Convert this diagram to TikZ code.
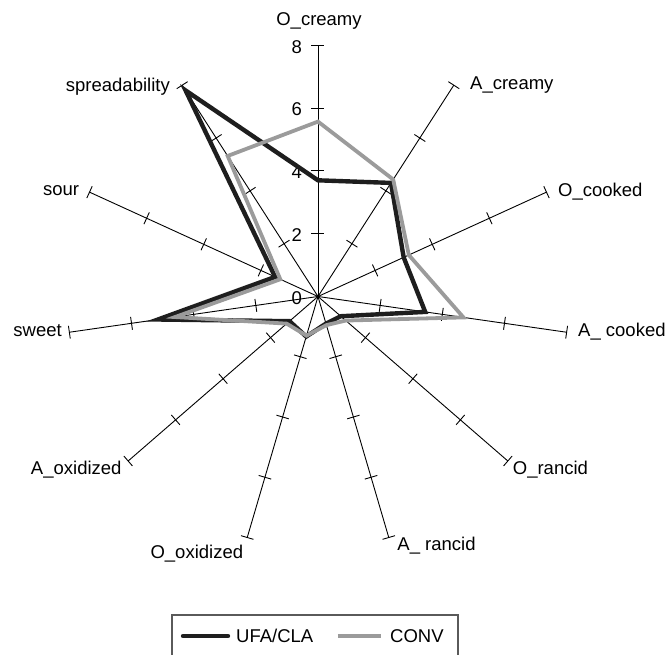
\documentclass[tikz,border=0pt]{standalone}
\usepackage{fontspec}
\setmainfont{Liberation Sans}
\usetikzlibrary{calc}
\definecolor{convgray}{RGB}{155,155,155}
\definecolor{ufablack}{RGB}{30,30,30}
\definecolor{boxgray}{RGB}{90,90,90}
\begin{document}
\begin{tikzpicture}[x=1pt,y=1pt,
  font=\fontsize{18.5}{22}\selectfont,
  axisline/.style={line width=0.9pt,black},
  ufaline/.style={line width=4.4pt,ufablack,line join=miter},
  convline/.style={line width=3.8pt,convgray,line join=miter},
  lab/.style={inner sep=0pt},
  num/.style={inner sep=0pt,anchor=east}]
\useasboundingbox (-318,-358.5) rectangle (349,296.5);
\def\U{31.4}
\coordinate (c) at (0,0);
% axes with ticks
\foreach \i in {0,...,10}{
  \pgfmathsetmacro\a{90-\i*360/11}
  \coordinate (e\i) at ({\a}:{8*\U});
  \draw[axisline] (c) -- (e\i);
  \foreach \k in {1,...,4}{
    \draw[axisline] ($({\a}:{2*\k*\U})+({\a+90}:6.5)$) -- ($({\a}:{2*\k*\U})+({\a-90}:6.5)$);
  }
}
\fill (c) circle (1.8);
% scale numbers
\foreach \k in {0,...,4}{
  \node[num] (n\k) at (-16,{2*\k*\U-1.5}) {\pgfmathparse{int(2*\k)}\pgfmathresult};
}
% data points
\foreach \v [count=\j from 0] in {3.7,4.3,3.0,3.45,0.96,0.9,1.33,1.2,5.15,1.5,7.8}{
  \coordinate (u\j) at ({90-\j*360/11}:{\v*\U});
}
\foreach \v [count=\j from 0] in {5.57,4.43,3.18,4.68,1.17,0.95,1.3,1.32,4.6,1.32,5.32}{
  \coordinate (g\j) at ({90-\j*360/11}:{\v*\U});
}
\draw[ufaline] (u0) -- (u1) -- (u2) -- (u3) -- (u4) -- (u5) -- (u6) -- (u7) -- (u8) -- (u9) -- (u10) -- cycle;
\draw[convline] (g0) -- (g1) -- (g2) -- (g3) -- (g4) -- (g5) -- (g6) -- (g7) -- (g8) -- (g9) -- (g10) -- cycle;
% axis labels
\node[lab,anchor=center] (l0) at (1,275.5) {O\_creamy};
\node[lab,anchor=west] (l1) at (152,211.5) {A\_creamy};
\node[lab,anchor=west] (l2) at (240,104.8) {O\_cooked};
\node[lab,anchor=west] (l3) at (260,-35.2) {A\_ cooked};
\node[lab,anchor=west] (l4) at (194.7,-173.5) {O\_rancid};
\node[lab,anchor=west] (l5) at (79.3,-249.5) {A\_ rancid};
\node[lab,anchor=east] (l6) at (-74.7,-257.5) {O\_oxidized};
\node[lab,anchor=east] (l7) at (-196.3,-173.5) {A\_oxidized};
\node[lab,anchor=east] (l8) at (-256,-34.2) {sweet};
\node[lab,anchor=east] (l9) at (-238.7,105.8) {sour};
\node[lab,anchor=east] (l10) at (-148,209.5) {spreadability};
% legend
\coordinate (bl) at (-146,-362);
\coordinate (tl) at (-146,-318.5);
\coordinate (tr) at (140,-318.5);
\coordinate (br) at (140,-362);
\draw[boxgray,line width=1.1pt] (bl) -- (tl) -- (tr) -- (br);
\coordinate (k1a) at (-135,-339.5);
\coordinate (k1b) at (-90,-339.5);
\coordinate (k2a) at (20,-339.5);
\coordinate (k2b) at (63,-339.5);
\draw[ufaline,line cap=round] (k1a) -- (k1b);
\draw[convline] (k2a) -- (k2b);
\node[lab,anchor=west] (t1) at (-82,-339.5) {UFA/CLA};
\node[lab,anchor=west] (t2) at (72,-339.5) {CONV};
\end{tikzpicture}
\end{document}
